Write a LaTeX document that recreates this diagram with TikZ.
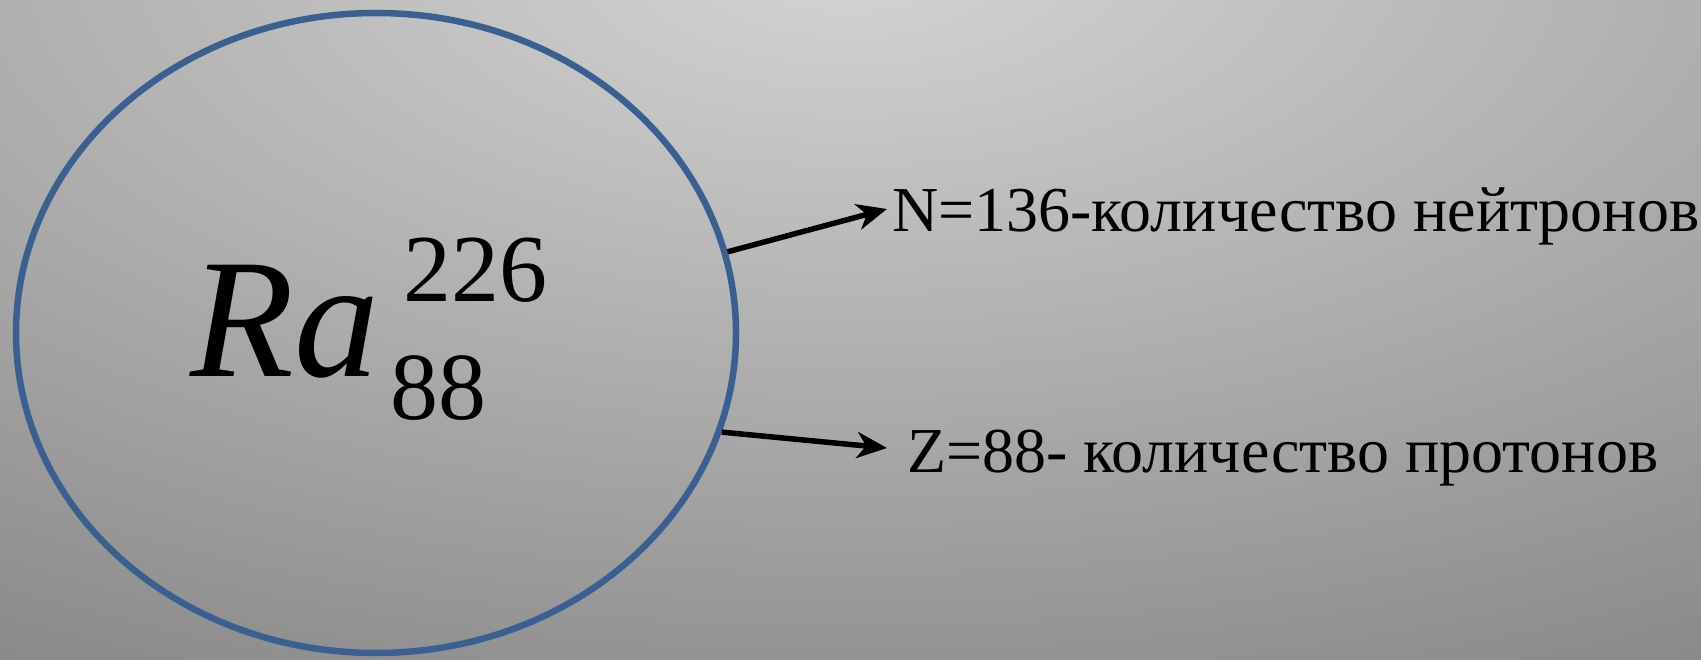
\documentclass[tikz,border=0pt]{standalone}
\usepackage{fontspec}
\setmainfont{Liberation Serif}
\usetikzlibrary{shapes.geometric,arrows.meta}
\definecolor{bgB}{RGB}{130,130,130}
\definecolor{ringblue}{RGB}{58,96,146}
\tikzset{
  ring/.style={ellipse, draw=ringblue, line width=6.5pt, inner sep=0pt, minimum width=720pt, minimum height=640pt},
  lbl/.style={anchor=base west, inner sep=0pt, font=\fontsize{64}{70}\selectfont},
  conn/.style={line width=5.5pt, -{Stealth[length=30pt,width=26pt,inset=9pt]}},
  sym/.style={anchor=base west, inner sep=0pt}
}
\begin{document}
\begin{tikzpicture}[x=1pt,y=1pt]
\useasboundingbox (0,0) rectangle (1701,659);
\begin{scope}
\clip (0,0) rectangle (1701,659);
\fill[bgB] (0,0) rectangle (1701,659);
\foreach \i in {0,...,82}{
  \pgfmathsetmacro\f{(83-\i)/83}
  \pgfmathsetmacro\g{(130+\i)/255}
  \definecolor{tmpg}{gray}{\g}
  \fill[tmpg] (850,700) ellipse ({1900*\f} and {894*\f});
}
\end{scope}
\node[ring] (nuc) at (376,326) {};
\node[sym, font=\fontsize{170}{175}\selectfont\itshape] (ra) at (190,282) {Ra};
\node[sym, font=\fontsize{96}{100}\selectfont] (up) at (403,357) {226};
\node[sym, font=\fontsize{96}{100}\selectfont] (dn) at (390,239) {88};
\node[lbl] (t1) at (892,427) {N=136-количество нейтронов};
\node[lbl] (t2) at (907,186) {Z=88- количество протонов};
\draw[conn] (nuc.13) -- ([shift={(-5,23)}]t1.base west);
\draw[conn] (nuc.-16) -- ([shift={(-20,25)}]t2.base west);
\end{tikzpicture}
\end{document}
